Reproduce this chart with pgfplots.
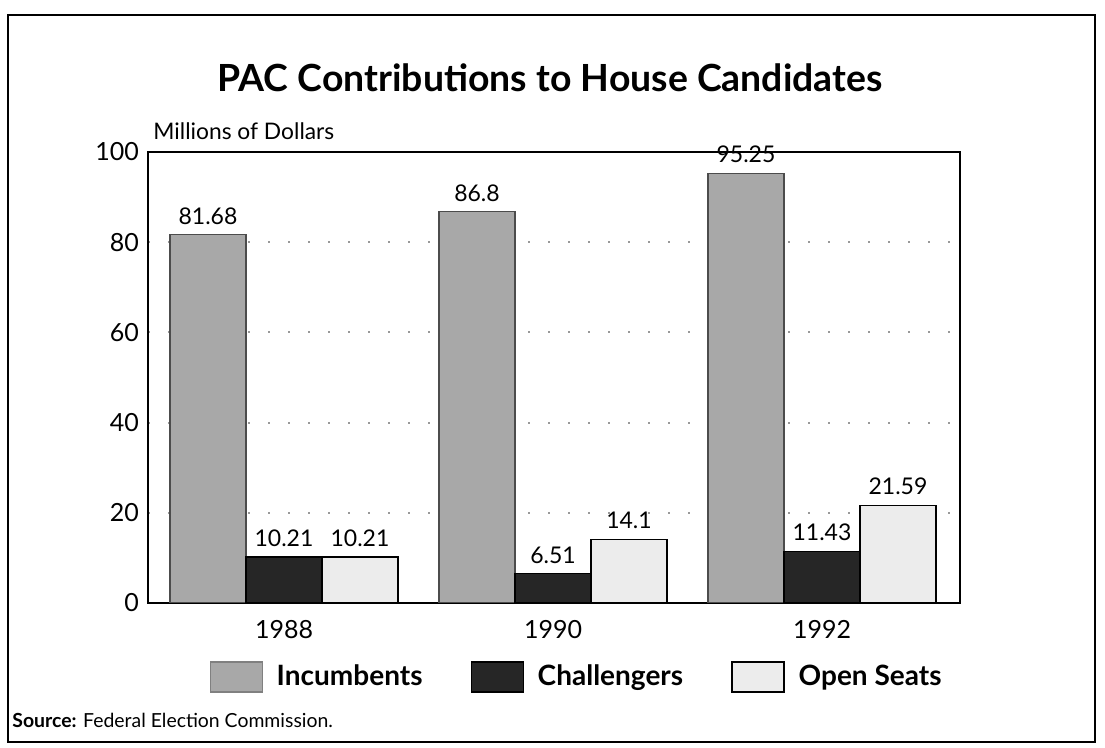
\documentclass[border=0pt]{standalone}
\usepackage{fontspec}
\setmainfont{Lato}
\usepackage{pgfplots}
\pgfplotsset{compat=1.18}
\definecolor{incc}{HTML}{A8A8A8}
\definecolor{chac}{HTML}{262626}
\definecolor{opec}{HTML}{ECECEC}
\begin{document}
\begin{tikzpicture}
\begin{scope}[x=0.5pt,y=0.5pt]
\path (0,0) rectangle (1105,748);
\draw[line width=1.3pt] (8,6) rectangle (1095,733);
\node[font=\fontsize{18.7}{22}\selectfont\bfseries] at (550,670) {PAC Contributions to House Candidates};
\node[anchor=west,font=\fontsize{11.4}{13}\selectfont,inner sep=0pt] at (153,617) {Millions of Dollars};
\node[anchor=west,font=\fontsize{9.7}{11}\selectfont,inner sep=0pt] at (12,28) {\textbf{Source:} Federal Election Commission.};
\end{scope}
\begin{axis}[
  at={(74pt,72.5pt)}, anchor=south west,
  width=406pt, height=225.5pt, scale only axis,
  ybar=0pt, bar width=38pt,
  ymin=0, ymax=100, ytick={0,20,40,60,80,100},
  xmin=-0.5056, xmax=2.513,
  xtick={0,1,2}, xticklabels={1988,1990,1992},
  major tick length=0pt,
  /pgf/number format/assume math mode=true,
  ticklabel style={font=\fontsize{12.5}{14}\selectfont},
  yticklabel style={xshift=-1pt},
  xticklabel style={yshift=-5pt},
  ymajorgrids,
  grid style={gray!80, line width=1pt, dash pattern=on 1.2pt off 8.8pt},
  axis line style={line width=0.9pt},
  nodes near coords,
  every node near coord/.append style={font=\fontsize{11.5}{13}\selectfont, yshift=1.5pt},
  legend style={at={(0.529,-0.164)}, anchor=center, draw=none, fill=none,
    legend columns=-1, font=\fontsize{14}{16}\selectfont\bfseries,
    /tikz/every even column/.append style={column sep=22pt}},
]
\addplot[fill=incc, draw=black!70, line width=0.6pt,
  legend image code/.code={\draw[fill=incc,draw=black!50] (0pt,-7.5pt) rectangle (26pt,7.5pt); \path (31pt,0pt);}]
  coordinates {(0,81.68) (1,86.8) (2,95.25)};
\addplot[fill=chac, draw=black, line width=0.6pt,
  legend image code/.code={\draw[fill=chac,draw=black] (0pt,-7.5pt) rectangle (26pt,7.5pt); \path (31pt,0pt);}]
  coordinates {(0,10.21) (1,6.51) (2,11.43)};
\addplot[fill=opec, draw=black, line width=0.8pt,
  legend image code/.code={\draw[fill=opec,draw=black,line width=0.8pt] (0pt,-7.5pt) rectangle (26pt,7.5pt); \path (31pt,0pt);}]
  coordinates {(0,10.21) (1,14.1) (2,21.59)};
\legend{Incumbents, Challengers, Open Seats}
\end{axis}
\end{tikzpicture}
\end{document}
